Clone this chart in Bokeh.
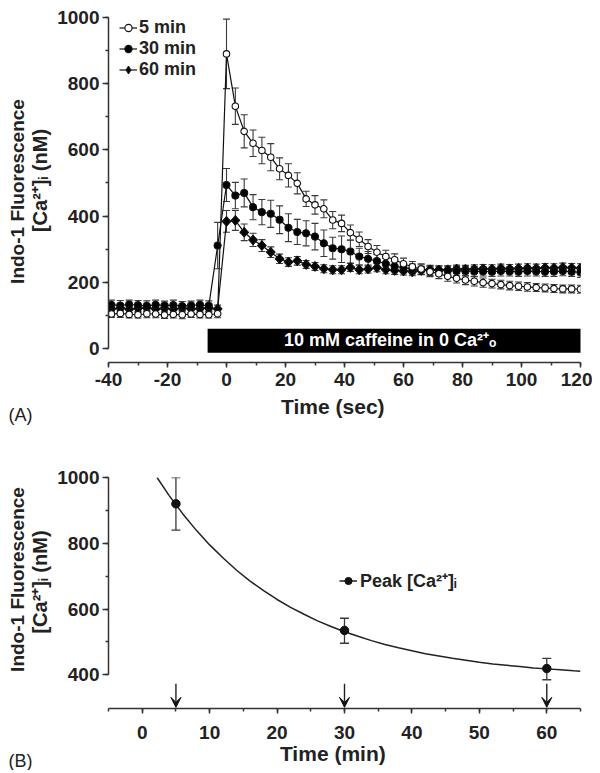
import math
from bokeh.plotting import figure
from bokeh.models import (ColumnDataSource, Whisker, TeeHead, SingleIntervalTicker,
                          BoxAnnotation, Label, Legend, LegendItem, Arrow, VeeHead,
                          PrintfTickFormatter)
from bokeh.layouts import column, row
from bokeh.embed import file_html
from bokeh.resources import INLINE

# ---------------- data: panel A ----------------
time_sec = [-39, -36, -33, -30, -27, -24, -21, -18, -15, -12, -9, -6, -3,
            0, 3, 6, 9, 12, 15, 18, 21, 24, 27, 30, 33, 36, 39, 42, 45, 48,
            51, 54, 57, 60, 63, 66, 69, 72, 75, 78, 81, 84, 87, 90, 93, 96,
            99, 102, 105, 108, 111, 114, 117, 120]

ca_5min = [104, 106, 103, 102, 105, 104, 101, 103, 102, 104, 103, 102, 105,
           890, 732, 656, 620, 598, 578, 543, 523, 499, 452, 434, 422, 388,
           378, 350, 330, 308, 291, 278, 268, 256, 247, 240, 232, 226, 218,
           212, 207, 203, 199, 196, 193, 190, 188, 186, 184, 183, 181, 180,
           180, 179]
err_5min = [10, 12, 11, 10, 12, 11, 10, 11, 12, 10, 11, 10, 12,
            105, 55, 50, 40, 40, 41, 33, 35, 32, 23, 28, 27, 26, 25, 23, 22,
            21, 20, 19, 18, 17, 16, 16, 15, 15, 15, 14, 14, 14, 14, 13, 13,
            13, 13, 13, 12, 12, 12, 12, 12, 12]

ca_30min = [132, 130, 133, 131, 129, 132, 130, 131, 128, 130, 132, 129, 311,
            494, 462, 470, 427, 412, 407, 389, 365, 352, 348, 338, 318, 303,
            300, 293, 278, 271, 264, 256, 248, 244, 240, 238, 236, 236, 235,
            234, 234, 233, 233, 232, 234, 233, 232, 234, 233, 232, 233, 234,
            232, 230]
err_30min = [14, 15, 13, 14, 15, 14, 13, 15, 14, 13, 14, 15, 70,
             50, 40, 42, 38, 38, 41, 42, 42, 38, 38, 40, 40, 33, 40, 35, 25,
             22, 20, 18, 16, 15, 15, 15, 15, 14, 14, 14, 15, 15, 14, 14, 15,
             14, 14, 15, 14, 14, 15, 14, 14, 15]

ca_60min = [120, 122, 119, 121, 123, 120, 121, 119, 122, 120, 121, 122, 120,
            384, 387, 351, 328, 311, 291, 271, 261, 265, 254, 248, 241, 238,
            238, 245, 238, 240, 244, 238, 236, 234, 232, 236, 238, 237, 238,
            240, 239, 240, 241, 240, 242, 241, 242, 243, 242, 244, 243, 245,
            244, 243]
err_60min = [11, 12, 11, 12, 11, 12, 11, 12, 11, 12, 11, 12, 11,
             33, 30, 25, 20, 18, 16, 14, 13, 13, 12, 12, 12, 12, 12, 12, 12,
             12, 12, 12, 12, 12, 12, 12, 12, 12, 12, 12, 12, 13, 13, 13, 13,
             13, 13, 13, 13, 13, 13, 13, 13, 13]

series_labels = ["5 min", "30 min", "60 min"]
caffeine_on, caffeine_off = -6.4, 120.7

# ---------------- data: panel B ----------------
peak_time_min = [5, 30, 60]
peak_ca = [920, 535, 419]
peak_hi = [1000, 572, 450]
peak_lo = [840, 496, 385]

fit_time_min = [2.2, 4, 6, 8, 10, 12, 14, 16, 18, 20, 22, 24, 26, 28, 30, 32,
                34, 36, 38, 40, 42, 44, 46, 48, 50, 52, 54, 56, 58, 60, 62, 64, 65]
fit_ca = [1000, 945, 890, 840, 795, 755, 718, 685, 656, 629, 605, 584, 564,
          547, 531, 517, 504, 492, 482, 473, 464, 457, 450, 444, 438, 433,
          429, 425, 421, 418, 415, 412, 411]

# ---------------- styling ----------------
FONT = "Liberation Sans"
AX = "#333333"
TXT = "#222222"
NB = "\u00a0"


def no_align(p):
    if hasattr(p, "frame_align"):
        p.frame_align = False


def style(p, xticker, yticker, xbounds, ybounds, xstand, xlabel, lstand):
    p.xgrid.grid_line_color = None
    p.ygrid.grid_line_color = None
    p.outline_line_color = None
    p.xaxis.ticker = xticker
    p.yaxis.ticker = yticker
    p.xaxis.formatter = PrintfTickFormatter(format="%d")
    p.yaxis.formatter = PrintfTickFormatter(format="%d")
    p.xaxis.bounds = xbounds
    p.yaxis.bounds = ybounds
    for ax in (p.xaxis[0], p.yaxis[0]):
        ax.axis_line_color = AX
        ax.axis_line_width = 1.5
        ax.major_tick_line_color = AX
        ax.major_tick_line_width = 1.5
        ax.minor_tick_line_color = AX
        ax.minor_tick_line_width = 1.5
        ax.major_tick_in = 0
        ax.minor_tick_in = 0
        ax.major_label_text_font = FONT
        ax.major_label_text_font_style = "bold"
        ax.major_label_text_font_size = "19px"
        ax.major_label_text_color = TXT
    p.xaxis.major_tick_out = 5
    p.xaxis.minor_tick_out = 3
    p.yaxis.major_tick_out = 6
    p.yaxis.minor_tick_out = 3
    p.xaxis.major_label_standoff = xstand
    p.yaxis.major_label_standoff = 3
    p.xaxis.axis_label = xlabel
    p.xaxis.axis_label_standoff = lstand
    p.xaxis.axis_label_text_font = FONT
    p.xaxis.axis_label_text_font_style = "bold"
    p.xaxis.axis_label_text_font_size = "21px"
    p.xaxis.axis_label_text_color = TXT
    no_align(p)


def lab(p, x, y, text, size="20px", bold=True, angle=0.0, align="center",
        baseline="middle", color=TXT):
    p.add_layout(Label(x=x, y=y, text=text, angle=angle, text_align=align,
                       text_baseline=baseline, text_font=FONT,
                       text_font_style="bold" if bold else "normal",
                       text_font_size=size, text_color=color))


def side(height):
    s = figure(width=54, height=height, x_range=(0, 54), y_range=(0, height),
               x_axis_type=None, y_axis_type=None, output_backend="svg",
               toolbar_location=None, min_border=0)
    s.xgrid.grid_line_color = None
    s.ygrid.grid_line_color = None
    s.outline_line_color = None
    no_align(s)
    return s


# ---------------- panel A ----------------
H1 = 428
p1 = figure(width=538, height=H1, x_range=(-40, 120), y_range=(-42.3, 1000),
            output_backend="svg", toolbar_location=None,
            min_border_left=53, min_border_right=12, min_border_top=17,
            min_border_bottom=66)
style(p1, SingleIntervalTicker(interval=20, num_minor_ticks=2),
      SingleIntervalTicker(interval=200, num_minor_ticks=2), (-40, 120), (0, 1000),
      5, "Time (sec)" + NB * 4, 6)

p1.add_layout(BoxAnnotation(left=caffeine_on, right=caffeine_off, bottom=-13, top=59.5,
                            fill_color="black", fill_alpha=1.0, line_color=None))
lab(p1, 55.5, 26, "10 mM caffeine in 0 Ca\u00b2\u207a\u2092", size="18px", color="white")

specs = [
    (ca_60min, err_60min, "square", 6.2, "black", "60 min", math.pi / 4),
    (ca_30min, err_30min, "circle", 7, "black", "30 min", 0.0),
    (ca_5min, err_5min, "circle", 6.5, "white", "5 min", 0.0),
]
rend = {}
for vals, errs, mk, sz, fill, name, ang in specs:
    src = ColumnDataSource(dict(t=time_sec, y=vals,
                                up=[v + e for v, e in zip(vals, errs)],
                                lo=[v - e for v, e in zip(vals, errs)]))
    p1.add_layout(Whisker(source=src, base="t", upper="up", lower="lo",
                          line_color="#3a3a3a", line_width=1.1,
                          upper_head=TeeHead(size=7, line_color="#3a3a3a", line_width=1.1),
                          lower_head=TeeHead(size=7, line_color="#3a3a3a", line_width=1.1)))
    ln = p1.line("t", "y", source=src, line_color="#111111", line_width=1.2)
    sc = p1.scatter("t", "y", source=src, marker=mk, size=sz, angle=ang,
                    fill_color=fill, line_color="#111111", line_width=1.1)
    if name == "60 min":
        # upright diamond on the same points (also serves as the legend key,
        # since legend keys ignore the marker angle)
        sc = p1.scatter("t", "y", source=src, marker="diamond", size=9.5,
                        fill_color=fill, line_color="#111111", line_width=1.1)
    rend[name] = [ln, sc]

leg1 = Legend(items=[LegendItem(label=n, renderers=rend[n]) for n in series_labels],
              location=(11, 282), glyph_width=18, glyph_height=21,
              label_height=21, spacing=0, padding=0, margin=0,
              border_line_color=None, background_fill_alpha=0,
              label_text_font=FONT, label_text_font_style="bold",
              label_text_font_size="18px", label_text_color=TXT, label_standoff=2)
p1.add_layout(leg1)

s1 = side(H1)
lab(s1, 17, H1 - 191, "Indo-1 Fluorescence", size="19px", angle=math.pi / 2)
lab(s1, 39.5, H1 - 180, "[Ca\u00b2\u207a]\u1d62 (nM)", angle=math.pi / 2)
lab(s1, 8, H1 - 414, "(A)", size="18px", bold=False, align="left", baseline="alphabetic")

# ---------------- panel B ----------------
H2 = 342
p2 = figure(width=538, height=H2, x_range=(-5, 65), y_range=(297.5, 1000),
            output_backend="svg", toolbar_location=None,
            min_border_left=53, min_border_right=12, min_border_top=49,
            min_border_bottom=62)
style(p2, SingleIntervalTicker(interval=10, num_minor_ticks=2),
      SingleIntervalTicker(interval=200, num_minor_ticks=2), (-5, 65), (400, 1000),
      12, "Time (min)" + NB * 4, 0)

fit_line = p2.line(fit_time_min, fit_ca, line_color="#222222", line_width=1.5)
psrc = ColumnDataSource(dict(t=peak_time_min, y=peak_ca, up=peak_hi, lo=peak_lo))
p2.add_layout(Whisker(source=psrc, base="t", upper="up", lower="lo",
                      line_color="#3a3a3a", line_width=1.3,
                      upper_head=TeeHead(size=9, line_color="#3a3a3a", line_width=1.3),
                      lower_head=TeeHead(size=9, line_color="#3a3a3a", line_width=1.3)))
peak_sc = p2.scatter("t", "y", source=psrc, marker="circle", size=8.5,
                     fill_color="#111111", line_color="#111111")

asrc = ColumnDataSource(dict(x=peak_time_min, y0=[373] * 3, y1=[301] * 3))
p2.add_layout(Arrow(source=asrc, x_start="x", y_start="y0", x_end="x", y_end="y1",
                    line_color="#222222", line_width=1.4,
                    end=VeeHead(size=10, fill_color="#111111", line_color="#111111",
                                line_width=1)))

leg2 = Legend(items=[LegendItem(label="Peak [Ca\u00b2\u207a]\u1d62",
                                renderers=[fit_line, peak_sc])],
              location=(231, 116), glyph_width=18, glyph_height=21, label_height=21,
              spacing=0, padding=0, margin=0, border_line_color=None,
              background_fill_alpha=0, label_text_font=FONT,
              label_text_font_style="bold", label_text_font_size="18px",
              label_text_color=TXT, label_standoff=3)
p2.add_layout(leg2)

s2 = side(H2)
lab(s2, 17, H2 - (579 - H1), "Indo-1 Fluorescence", size="19px", angle=math.pi / 2)
lab(s2, 39, H2 - (581.5 - H1), "[Ca\u00b2\u207a]\u1d62 (nM)", angle=math.pi / 2)
lab(s2, 8, H2 - (760 - H1), "(B)", size="18px", bold=False, align="left", baseline="alphabetic")

layout = column(row(s1, p1), row(s2, p2))
open("out.html", "w").write(file_html(layout, INLINE))
